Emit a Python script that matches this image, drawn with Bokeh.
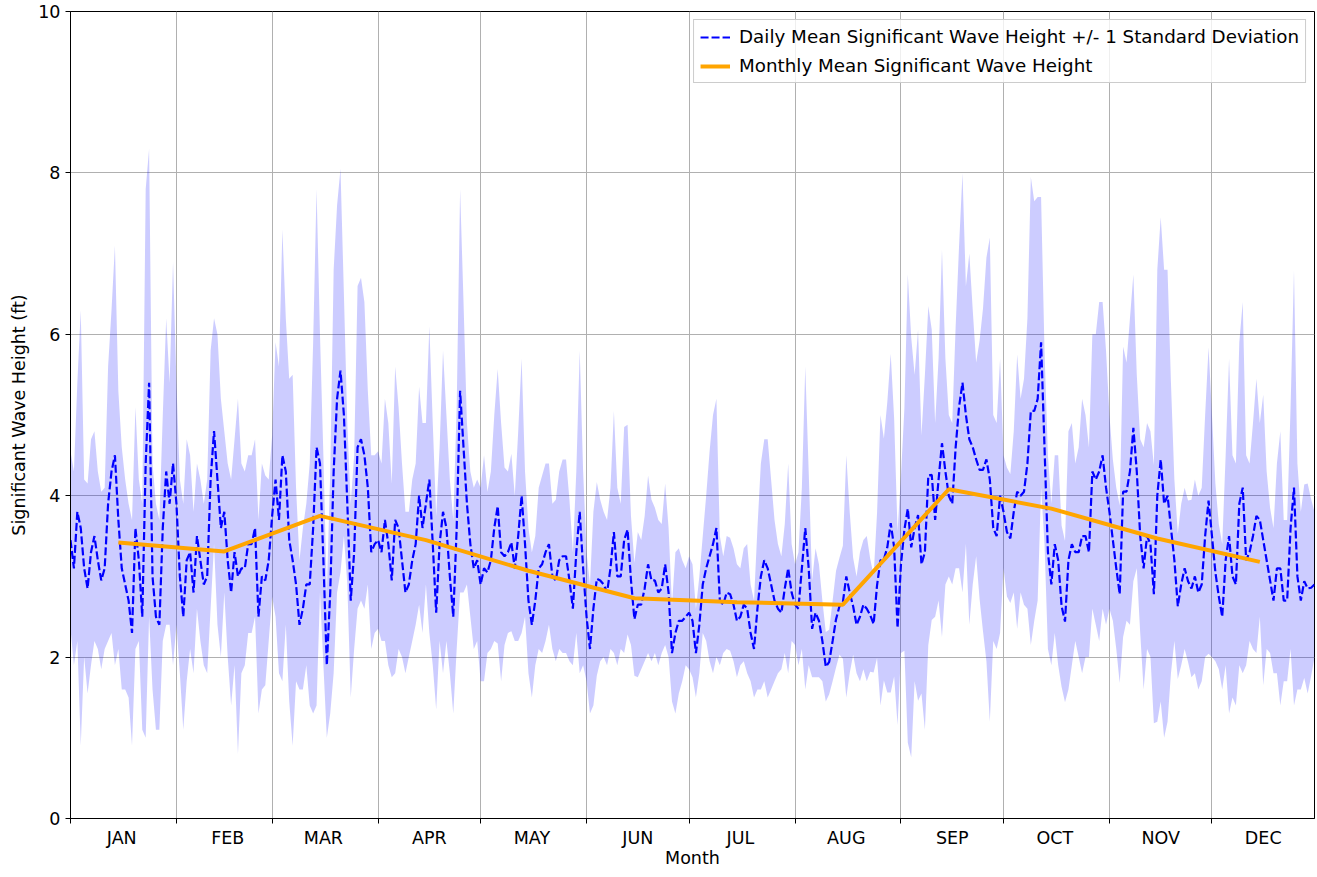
import numpy as np
from bokeh.plotting import figure
from bokeh.models import FixedTicker, Legend, LegendItem, ColumnDataSource
from bokeh.embed import file_html
from bokeh.resources import INLINE

# ---------------- data ----------------
month_labels = ["JAN", "FEB", "MAR", "APR", "MAY", "JUN",
                "JUL", "AUG", "SEP", "OCT", "NOV", "DEC"]
month_start_days = [1, 32, 60, 91, 121, 152, 182, 213, 244, 274, 305, 335]
label_days = [16, 47, 75, 106, 136, 167, 197, 228, 259, 289, 320, 350]

monthly_mean_days = [15, 46, 74, 105, 135, 166, 196, 227, 258, 288, 319, 349]
monthly_mean = [3.42, 3.31, 3.75, 3.45, 3.07, 2.73, 2.68, 2.65, 4.08, 3.84, 3.47, 3.18]

daily_mean = [
    # Jan
    3.45, 3.1, 3.8, 3.6, 3.1, 2.85, 3.3, 3.5, 3.2, 2.95, 3.1, 3.9, 4.3, 4.5, 3.7, 3.1,
    2.9, 2.7, 2.3, 3.6, 3.2, 2.5, 4.4, 5.4, 3.0, 2.5, 2.4, 3.6, 4.3, 3.9, 4.4,
    # Feb
    3.9, 3.0, 2.5, 3.2, 3.3, 2.8, 3.5, 3.2, 2.9, 3.0, 4.2, 4.8, 4.2, 3.6, 3.8, 3.2,
    2.8, 3.3, 3.0, 3.1, 3.1, 3.4, 3.4, 3.6, 2.5, 3.0, 2.95, 3.2,
    # Mar
    3.75, 4.2, 3.7, 4.5, 4.3, 3.45, 3.2, 2.9, 2.4, 2.6, 2.9, 2.9, 3.6, 4.6, 4.4, 3.2,
    1.9, 2.8, 4.3, 5.2, 5.55, 5.0, 3.9, 2.7, 3.3, 4.6, 4.7, 4.5, 4.1, 3.3, 3.4,
    # Apr
    3.45, 3.3, 3.7, 3.4, 2.95, 3.7, 3.6, 3.2, 2.8, 2.9, 3.2, 3.4, 4.0, 3.6, 3.9, 4.2,
    3.4, 2.55, 3.4, 3.8, 3.6, 3.0, 2.5, 3.6, 5.3, 4.6, 3.9, 3.4, 3.1, 3.2,
    # May
    2.9, 3.1, 3.05, 3.2, 3.6, 3.87, 3.3, 3.25, 3.3, 3.42, 3.1, 3.5, 4.0, 3.4, 2.7, 2.4,
    2.7, 3.1, 3.15, 3.3, 3.4, 3.0, 2.95, 3.2, 3.25, 3.25, 2.95, 2.6, 3.3, 3.8, 3.1,
    # Jun
    2.5, 2.1, 2.6, 2.97, 2.95, 2.9, 2.8, 3.1, 3.55, 3.0, 3.0, 3.45, 3.58, 2.95, 2.47,
    2.65, 2.65, 2.85, 3.15, 2.95, 2.95, 2.8, 2.85, 3.15, 2.8, 2.05, 2.3, 2.45, 2.45, 2.5,
    # Jul
    2.55, 2.45, 2.05, 2.4, 2.9, 3.1, 3.25, 3.4, 3.6, 2.7, 2.65, 2.8, 2.78, 2.65, 2.45,
    2.5, 2.65, 2.6, 2.3, 2.1, 2.6, 3.0, 3.2, 3.1, 2.9, 2.7, 2.6, 2.55, 2.85, 3.1, 2.8,
    # Aug
    2.65, 2.6, 3.1, 3.6, 3.1, 2.35, 2.55, 2.45, 2.2, 1.88, 1.94, 2.2, 2.47, 2.63, 2.68,
    3.0, 2.8, 2.63, 2.4, 2.5, 2.65, 2.6, 2.52, 2.41, 2.89, 3.2, 3.21, 3.36, 3.66, 3.36, 2.36,
    # Sep
    3.15, 3.58, 3.84, 3.36, 3.6, 3.76, 3.15, 3.3, 4.25, 4.26, 3.7, 4.2, 4.65, 4.3, 4.0,
    3.9, 4.6, 5.1, 5.4, 5.0, 4.7, 4.6, 4.45, 4.32, 4.32, 4.45, 4.2, 3.6, 3.5, 4.0,
    # Oct
    3.8, 3.55, 3.47, 3.8, 4.05, 4.0, 4.05, 4.4, 5.05, 5.05, 5.2, 5.9, 4.6, 3.3, 2.9,
    3.4, 3.2, 2.63, 2.44, 3.2, 3.4, 3.3, 3.3, 3.5, 3.5, 3.3, 4.3, 4.2, 4.3, 4.5, 4.1,
    # Nov
    3.8, 3.45, 3.1, 2.78, 4.05, 4.05, 4.3, 4.84, 4.3, 3.5, 3.1, 3.5, 3.4, 2.78, 4.0,
    4.45, 3.9, 4.0, 3.6, 3.2, 2.63, 2.9, 3.1, 2.94, 2.85, 3.0, 2.8, 2.9, 3.5, 3.94,
    # Dec
    3.5, 3.05, 2.75, 2.5, 3.2, 3.5, 3.0, 2.9, 3.9, 4.1, 3.2, 3.3, 3.5, 3.75, 3.7, 3.45,
    3.2, 2.95, 2.7, 3.1, 3.1, 2.7, 2.7, 3.6, 4.1, 3.0, 2.7, 2.94, 2.85, 2.86, 2.9,
]

daily_std = [
    # Jan
    1.1, 1.2, 1.6, 2.7, 1.1, 1.3, 1.4, 1.3, 1.1, 1.1, 1.0, 1.7, 2.0, 2.6, 1.6, 1.5,
    1.3, 1.2, 1.4, 1.5, 1.0, 1.4, 3.4, 2.9, 1.4, 1.4, 1.3, 1.4, 1.9, 1.5, 2.5,
    # Feb
    1.5, 1.2, 1.4, 1.5, 1.2, 1.0, 0.9, 1.0, 1.0, 1.2, 1.6, 1.4, 1.8, 1.6, 1.0, 1.2,
    1.4, 1.4, 2.2, 1.3, 1.2, 1.1, 1.1, 1.1, 1.2, 1.4, 1.3, 1.0,
    # Mar
    1.0, 1.7, 1.9, 2.8, 1.9, 2.0, 2.3, 1.2, 0.8, 1.0, 1.0, 1.5, 2.3, 3.2, 1.6, 1.3,
    0.9, 1.5, 2.5, 2.4, 2.5, 1.5, 1.0, 1.2, 1.2, 2.0, 2.0, 1.9, 1.2, 1.2, 1.1,
    # Apr
    1.1, 1.1, 1.5, 1.5, 1.2, 1.9, 1.5, 1.2, 1.0, 0.9, 1.0, 1.0, 1.35, 1.3, 1.0, 1.9,
    1.5, 1.2, 1.2, 2.0, 1.4, 1.2, 1.2, 1.5, 2.5, 1.8, 1.0, 0.9, 1.0, 1.0,
    # May
    1.2, 1.4, 1.0, 1.1, 1.4, 1.7, 1.6, 1.1, 1.0, 1.1, 0.9, 1.3, 1.7, 0.9, 0.9, 0.9,
    0.8, 1.0, 1.1, 1.1, 1.0, 0.9, 1.0, 1.1, 1.2, 1.2, 1.0, 0.7, 1.0, 2.0, 1.2,
    # Jun
    0.8, 0.8, 1.2, 1.2, 1.0, 0.9, 0.9, 1.0, 1.5, 1.1, 0.9, 1.4, 1.3, 0.8, 0.7, 0.9,
    0.8, 0.9, 1.1, 1.0, 0.9, 0.9, 0.8, 1.0, 0.8, 0.6, 1.0, 0.9, 0.75, 0.6,
    # Jul
    0.7, 0.7, 0.55, 0.6, 0.6, 0.9, 1.3, 1.6, 1.6, 0.8, 0.6, 0.7, 0.7, 0.7, 0.7, 0.6,
    0.7, 0.8, 0.6, 0.6, 1.0, 1.4, 1.5, 1.6, 1.3, 1.0, 0.8, 0.7, 0.8, 1.3, 0.6,
    # Aug
    0.5, 0.7, 1.0, 2.0, 1.2, 0.6, 0.8, 0.7, 0.5, 0.43, 0.4, 0.5, 0.6, 0.6, 0.7, 1.5,
    1.0, 0.6, 0.6, 0.8, 0.8, 0.9, 0.7, 0.6, 0.9, 1.8, 1.5, 1.8, 2.1, 1.6, 1.2,
    # Sep
    1.1, 1.5, 2.9, 2.6, 1.9, 2.3, 1.6, 2.2, 2.1, 1.8, 1.2, 1.5, 2.4, 1.4, 1.0, 1.0,
    1.5, 2.0, 2.6, 1.6, 2.3, 1.7, 1.2, 1.6, 2.0, 2.5, 3.0, 1.4, 1.4, 1.7,
    # Oct
    0.7, 0.8, 0.8, 1.0, 1.7, 1.2, 1.4, 1.8, 2.9, 2.6, 2.5, 1.8, 1.2, 1.2, 1.0, 1.1,
    1.3, 1.0, 1.0, 1.6, 1.5, 1.1, 1.3, 1.7, 1.5, 1.3, 1.7, 1.8, 2.1, 1.9, 1.7,
    # Nov
    1.2, 1.0, 1.0, 1.1, 1.8, 1.6, 1.9, 1.9, 1.2, 1.2, 1.5, 1.4, 1.4, 1.6, 2.8, 3.0,
    2.9, 2.8, 1.8, 1.0, 0.9, 1.0, 1.0, 1.0, 1.1, 1.2, 1.2, 1.2, 1.5, 1.9,
    # Dec
    1.5, 1.1, 0.9, 0.9, 1.3, 2.2, 1.5, 1.5, 2.0, 2.3, 1.3, 1.1, 1.4, 1.7, 1.2, 1.8,
    1.1, 0.9, 0.9, 1.3, 1.7, 1.0, 1.0, 1.5, 2.7, 1.4, 1.1, 1.2, 1.3, 1.1, 0.9,
]

y_ticks = [0, 2, 4, 6, 8, 10]

# ---------------- build ----------------
days = np.arange(1, len(daily_mean) + 1)
mean = np.array(daily_mean)
std = np.array(daily_std)
src = ColumnDataSource(dict(day=days, mean=mean, lower=mean - std, upper=mean + std))

FONT = "DejaVu Sans"
FS = "17.5px"

p = figure(width=1316, height=874, x_range=(1, 365), y_range=(0, 10),
           output_backend="svg", toolbar_location=None,
           min_border_left=70, min_border_right=2, min_border_top=11, min_border_bottom=56)
p.background_fill_color = "white"
p.border_fill_color = "white"
p.outline_line_color = "black"
p.outline_line_alpha = 1.0
p.outline_line_width = 1

p.varea(x="day", y1="lower", y2="upper", source=src, fill_color="blue", fill_alpha=0.2)
r_daily = p.line("day", "mean", source=src, line_color="blue", line_width=2.2, line_dash="8 3")
r_month = p.line(monthly_mean_days, monthly_mean, line_color="orange", line_width=4)

# x axis: labels mid-month, tick marks at month starts
xa = p.xaxis[0]
xa.ticker = FixedTicker(ticks=label_days, minor_ticks=month_start_days)
xa.major_label_overrides = {d: lab for d, lab in zip(label_days, month_labels)}
xa.major_tick_out = 0
xa.major_tick_in = 0
xa.minor_tick_out = 5
xa.minor_tick_in = 0
xa.minor_tick_line_color = "black"
xa.axis_label = "Month"
xa.major_label_standoff = 4
xa.axis_label_standoff = -3

ya = p.yaxis[0]
ya.ticker = FixedTicker(ticks=y_ticks)
ya.minor_tick_line_color = None
ya.major_tick_out = 5
ya.major_tick_in = 0
ya.axis_label = "Significant Wave Height (ft)"
ya.major_label_standoff = 5
ya.axis_label_standoff = 6

for ax in (xa, ya):
    ax.axis_line_color = "black"
    ax.major_tick_line_color = "black"
    ax.major_label_text_font = FONT
    ax.major_label_text_font_size = FS
    ax.major_label_text_color = "black"
    ax.axis_label_text_font = FONT
    ax.axis_label_text_font_size = FS
    ax.axis_label_text_font_style = "normal"
    ax.axis_label_text_color = "black"

p.xgrid.ticker = FixedTicker(ticks=month_start_days)
p.ygrid.ticker = FixedTicker(ticks=y_ticks)
p.grid.grid_line_color = "#b0b0b0"
p.grid.grid_line_width = 1

legend = Legend(items=[
    LegendItem(label="Daily Mean Significant Wave Height +/- 1 Standard Deviation", renderers=[r_daily]),
    LegendItem(label="Monthly Mean Significant Wave Height", renderers=[r_month]),
], location="top_right")
legend.label_text_font = FONT
legend.label_text_font_size = "18.3px"
legend.label_text_color = "black"
legend.border_line_color = "#cccccc"
legend.border_line_alpha = 1.0
legend.background_fill_alpha = 0.8
legend.padding = 6
legend.spacing = 8
legend.margin = 8
legend.glyph_width = 30
legend.glyph_height = 20
legend.label_height = 20
legend.label_standoff = 9
p.add_layout(legend)

open("out.html", "w").write(file_html(p, INLINE))
